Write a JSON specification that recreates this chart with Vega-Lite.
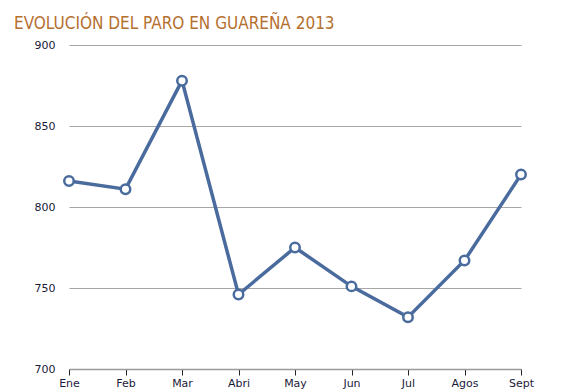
{
  "$schema": "https://vega.github.io/schema/vega-lite/v6.json",
  "autosize": "none",
  "width": 452,
  "height": 324,
  "padding": {"left": 69, "top": 45, "right": 43, "bottom": 23},
  "background": "white",
  "title": {
    "text": "EVOLUCIÓN DEL PARO EN GUAREÑA 2013",
    "font": "DejaVu Sans Condensed",
    "fontSize": 17,
    "fontWeight": "normal",
    "color": "#B5702F",
    "anchor": "start",
    "frame": "group",
    "dx": -55,
    "dy": 24,
    "baseline": "bottom",
    "offset": 13
  },
  "data": {
    "values": [
      {"mes": "Ene", "paro": 816},
      {"mes": "Feb", "paro": 811},
      {"mes": "Mar", "paro": 878},
      {"mes": "Abri", "paro": 746},
      {"mes": "May", "paro": 775},
      {"mes": "Jun", "paro": 751},
      {"mes": "Jul", "paro": 732},
      {"mes": "Agos", "paro": 767},
      {"mes": "Sept", "paro": 820}
    ]
  },
  "config": {
    "view": {"stroke": null},
    "axis": {
      "labelFont": "DejaVu Sans",
      "labelFontSize": 11,
      "labelColor": "#1a1a3a",
      "title": null
    }
  },
  "encoding": {
    "x": {
      "field": "mes",
      "type": "ordinal",
      "sort": null,
      "scale": {"type": "point", "padding": 0},
      "axis": {
        "labelAngle": 0,
        "domainColor": "#999999",
        "domainWidth": 1.5,
        "tickColor": "#222222",
        "tickSize": 6,
        "tickOffset": 0,
        "labelPadding": 2,
        "grid": false
      }
    },
    "y": {
      "field": "paro",
      "type": "quantitative",
      "scale": {"domain": [700, 900], "zero": false},
      "axis": {
        "values": [700, 750, 800, 850, 900],
        "domain": false,
        "ticks": false,
        "labelPadding": 14,
        "gridColor": "#a6a6a6",
        "gridWidth": 1,
        "gridOpacity": 1
      }
    }
  },
  "layer": [
    {
      "mark": {"type": "line", "color": "#4A6B9D", "strokeWidth": 3.5}
    },
    {
      "mark": {"type": "point", "filled": true, "fill": "white", "stroke": "#4A6B9D", "strokeWidth": 2.5, "size": 90, "opacity": 1}
    }
  ]
}
